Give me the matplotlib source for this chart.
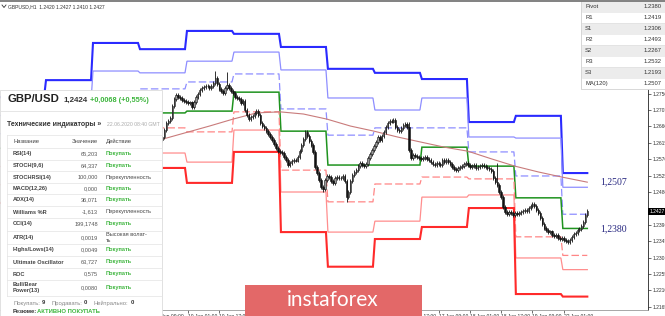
import matplotlib
matplotlib.use("Agg")
import matplotlib.pyplot as plt
import numpy as np
from matplotlib.patches import Rectangle

plt.rcParams["font.family"] = ["Liberation Sans", "DejaVu Sans"]

W, H = 665, 316

# daily pivot levels, 4 Jun .. 22 Jun (one value per trading day)
day_index = list(range(-1, 12))
r3 = [1.2740, 1.2787, 1.2889, 1.2872, 1.2922, 1.2914, 1.2878, 1.2818, 1.2807, 1.2790, 1.2672, 1.2689, 1.2532]
r2 = [1.2690, 1.2730, 1.2812, 1.2807, 1.2839, 1.2864, 1.2815, 1.2738, 1.2705, 1.2738, 1.2631, 1.2628, 1.2493]
r1 = [1.2640, 1.2680, 1.2740, 1.2763, 1.2782, 1.2804, 1.2708, 1.2636, 1.2656, 1.2656, 1.2590, 1.2524, 1.2419]
pivot = [1.2600, 1.2640, 1.2670, 1.2697, 1.2702, 1.2754, 1.2647, 1.2554, 1.2554, 1.2603, 1.2551, 1.2464, 1.2380]
s1 = [1.2550, 1.2590, 1.2600, 1.2656, 1.2645, 1.2700, 1.2540, 1.2453, 1.2502, 1.2521, 1.2516, 1.2357, 1.2306]
s2 = [1.2500, 1.2540, 1.2530, 1.2587, 1.2562, 1.2650, 1.2480, 1.2370, 1.2400, 1.2466, 1.2472, 1.2299, 1.2267]
s3 = [1.2450, 1.2490, 1.2450, 1.2546, 1.2505, 1.2590, 1.2370, 1.2275, 1.2351, 1.2384, 1.2436, 1.2200, 1.2193]

# H1 closes from hour 60 (9 Jun 12:00)
hour0 = 60
first_open = 1.2622
closes = [
    1.2631, 1.2650, 1.2669, 1.2675, 1.2683, 1.2716, 1.2735, 1.2746, 1.2741, 1.2738, 1.2732, 1.2730,
    1.2727, 1.2724, 1.2726, 1.2713, 1.2727, 1.2741, 1.2749, 1.2760, 1.2765, 1.2768, 1.2771, 1.2770,
    1.2765, 1.2771, 1.2779, 1.2793, 1.2776, 1.2763, 1.2757, 1.2752, 1.2765, 1.2774, 1.2765, 1.2757,
    1.2752, 1.2741, 1.2738, 1.2735, 1.2724, 1.2730, 1.2705, 1.2691, 1.2680, 1.2686, 1.2689, 1.2697,
    1.2702, 1.2691, 1.2669, 1.2661, 1.2656, 1.2647, 1.2639, 1.2631, 1.2623, 1.2612, 1.2601, 1.2592,
    1.2590, 1.2587, 1.2576, 1.2568, 1.2554, 1.2560, 1.2565, 1.2568, 1.2566, 1.2576, 1.2592, 1.2609,
    1.2625, 1.2645, 1.2634, 1.2620, 1.2609, 1.2590, 1.2549, 1.2532, 1.2513, 1.2494, 1.2488, 1.2513,
    1.2524, 1.2521, 1.2510, 1.2505, 1.2518, 1.2521, 1.2519, 1.2518, 1.2524, 1.2510, 1.2466, 1.2480,
    1.2510, 1.2527, 1.2535, 1.2540, 1.2551, 1.2560, 1.2554, 1.2551, 1.2557, 1.2573, 1.2584, 1.2595,
    1.2606, 1.2617, 1.2631, 1.2623, 1.2634, 1.2645, 1.2658, 1.2669, 1.2675, 1.2673, 1.2678, 1.2658,
    1.2650, 1.2647, 1.2656, 1.2664, 1.2667, 1.2658, 1.2595, 1.2573, 1.2582, 1.2579, 1.2576, 1.2573,
    1.2571, 1.2573, 1.2576, 1.2571, 1.2568, 1.2562, 1.2557, 1.2554, 1.2560, 1.2557, 1.2554, 1.2568,
    1.2562, 1.2568, 1.2562, 1.2557, 1.2549, 1.2543, 1.2540, 1.2546, 1.2549, 1.2551, 1.2557, 1.2560,
    1.2554, 1.2549, 1.2551, 1.2554, 1.2546, 1.2549, 1.2551, 1.2554, 1.2551, 1.2549, 1.2546, 1.2543,
    1.2538, 1.2518, 1.2507, 1.2499, 1.2480, 1.2466, 1.2439, 1.2425, 1.2420, 1.2425, 1.2422, 1.2417,
    1.2422, 1.2420, 1.2422, 1.2425, 1.2428, 1.2431, 1.2428, 1.2436, 1.2442, 1.2447, 1.2442, 1.2431,
    1.2422, 1.2409, 1.2392, 1.2381, 1.2376, 1.2370, 1.2372, 1.2362, 1.2359, 1.2362, 1.2354, 1.2351,
    1.2354, 1.2348, 1.2346, 1.2343, 1.2348, 1.2357, 1.2365, 1.2367, 1.2376, 1.2378, 1.2387, 1.2398,
    1.2417, 1.2427,
]
spike_high = {87: 1.2813, 93: 1.2810, 186: 1.2672, 231: 1.2560}
spike_low = {142: 1.2480, 154: 1.2452, 267: 1.2338}

ma_hours = [60, 72, 84, 96, 108, 120, 132, 144, 156, 168, 180, 192, 204, 216, 228, 240, 252, 264, 277]
ma120 = [1.2625, 1.2643, 1.2661, 1.2680, 1.2697, 1.2700, 1.2694, 1.2680, 1.2661, 1.2647, 1.2631, 1.2617,
         1.2603, 1.2592, 1.2571, 1.2551, 1.2535, 1.2521, 1.2507]

y_ticks = [1.2165, 1.2210, 1.2255, 1.2300, 1.2345, 1.2390, 1.2480, 1.2525, 1.2570, 1.2615, 1.2660, 1.2705, 1.2750]
x_ticks = [57, 73, 89, 105, 121, 137, 153, 169, 185, 201, 217, 233, 249, 265]
x_labels = ["9 Jun 09:00", "10 Jun 01:00", "10 Jun 17:00", "11 Jun 09:00", "12 Jun 01:00", "12 Jun 17:00",
            "15 Jun 09:00", "16 Jun 01:00", "16 Jun 17:00", "17 Jun 09:00", "18 Jun 01:00", "18 Jun 17:00",
            "19 Jun 09:00", "22 Jun 01:00"]

ind_names = ["RSI(14)", "STOCH(9,6)", "STOCHRSI(14)", "MACD(12,26)", "ADX(14)", "Williams %R", "CCI(14)",
             "ATR(14)", "Highs/Lows(14)", "Ultimate Oscillator", "ROC", "Bull/Bear\nPower(13)"]
ind_values = ["65,203", "64,337", "100,000", "0,000", "36,071", "-1,613", "199,1748", "0,0019", "0,0049",
              "63,727", "0,575", "0,0080"]
ind_actions = ["Покупать", "Покупать", "Перекупленность", "Покупать", "Покупать", "Перекупленность",
               "Покупать", "Высокая волат-\nть", "Покупать", "Покупать", "Покупать", "Покупать"]

GREEN_TXT = "#3db53d"

fig = plt.figure(figsize=(W / 100, H / 100), dpi=100)
fig.patch.set_facecolor("white")

# main price chart: x in hours from 5 Jun 00:00, 1.958 px per hour
ax = fig.add_axes([0, 6 / H, 648 / W, 308 / H])
ax.set_xlim(-23.0, 308.0)
ax.set_ylim(1.21562, 1.30014)
for side in ("left", "top"):
    ax.spines[side].set_visible(False)
ax.spines["right"].set_color("#222222")
ax.spines["right"].set_linewidth(0.6)
ax.spines["bottom"].set_color("#999999")
ax.spines["bottom"].set_linewidth(0.6)

last_hour = hour0 + len(closes) - 1


def level_line(values):
    xs, ys = [], []
    for d, v in zip(day_index, values):
        xs += [d * 24 + 0.5, min(d * 24 + 23.5, last_hour)]
        ys += [v, v]
    return xs, ys


levels = [
    (r3, "#2a2aff", 1.5, "-"),
    (r2, "#8e8eff", 0.9, "-"),
    (r1, "#8e8eff", 0.9, (0, (6, 2.5))),
    (pivot, "#1f931f", 1.1, "-"),
    (s1, "#ff8686", 0.9, (0, (6, 2.5))),
    (s2, "#ff8e8e", 0.9, "-"),
    (s3, "#ff2a2a", 1.5, "-"),
]
for vals, col, lw, ls in levels:
    xs, ys = level_line(vals)
    ax.plot(xs, ys, color=col, lw=lw, ls=ls, zorder=2, solid_joinstyle="miter")

ax.plot(ma_hours, ma120, color="#c97b7b", lw=0.8, zorder=2)

# candles
c = np.array(closes)
o = np.r_[first_open, c[:-1]]
hrs = np.arange(hour0, hour0 + len(c))
hi = np.maximum(o, c) + 0.0005
lo = np.minimum(o, c) - 0.0005
for h, v in spike_high.items():
    hi[h - hour0] = v
for h, v in spike_low.items():
    lo[h - hour0] = v
up = c >= o
ax.vlines(hrs, lo, hi, color="#111111", lw=0.6, zorder=3)
ax.bar(hrs[up], (c - o)[up] + 0.00005, bottom=o[up], width=0.75, color="#999999",
       edgecolor="#111111", linewidth=0.4, zorder=4)
ax.bar(hrs[~up], (o - c)[~up] + 0.00005, bottom=c[~up], width=0.75, color="#111111",
       edgecolor="#111111", linewidth=0.4, zorder=4)

ax.yaxis.tick_right()
ax.set_yticks(y_ticks)
ax.set_yticklabels([f"{v:.4f}" for v in y_ticks])
ax.tick_params(axis="y", labelsize=3.6, length=2, width=0.5, pad=1.5, colors="#333333")
ax.set_xticks(x_ticks)
ax.set_xticklabels(x_labels, ha="left")
ax.tick_params(axis="x", labelsize=3.6, length=2, width=0.5, pad=1.2, colors="#333333")

ax.text(1.002, c[-1], f"{c[-1]:.4f}", transform=ax.get_yaxis_transform(), fontsize=3.6,
        color="white", va="center", ha="left", clip_on=False, zorder=6,
        bbox=dict(boxstyle="square,pad=0.25", fc="black", ec="none"))
ax.text(283.5, ma120[-1], f"{ma120[-1]:.4f}".replace(".", ","), fontsize=7, color="#262680",
        family=["Liberation Serif", "DejaVu Serif"], va="center", ha="left", zorder=6)
ax.text(283.5, pivot[-1], f"{pivot[-1]:.4f}".replace(".", ","), fontsize=7, color="#262680",
        family=["Liberation Serif", "DejaVu Serif"], va="center", ha="left", zorder=6)

# overlay in pixel coordinates
ov = fig.add_axes([0, 0, 1, 1], zorder=5)
ov.set_xlim(0, W)
ov.set_ylim(H, 0)
ov.axis("off")
ov.patch.set_visible(False)

ov.plot([0, W], [0.6, 0.6], color="#777777", lw=1.3)
ov.plot([2, 4, 6], [5, 7.5, 5], color="#333333", lw=0.6)
ov.text(8, 6.5, "GBPUSD,H1  1.2420 1.2427 1.2410 1.2427", fontsize=3.6, color="#333333", va="center")

# top-right level table
tab_names = ["Pivot", "R1", "S1", "R2", "S2", "R3", "S3", "MA(120)"]
tab_vals = [pivot[-1], r1[-1], s1[-1], r2[-1], s2[-1], r3[-1], s3[-1], ma120[-1]]
ov.add_patch(Rectangle((581, 1.2), 84, 87.5, fc="white", ec="#cfcfcf", lw=0.6))
for i, (nm, v) in enumerate(zip(tab_names, tab_vals)):
    y0 = 1.2 + i * 10.95
    if i % 2 == 0:
        ov.add_patch(Rectangle((581.5, y0), 83.5, 10.95, fc="#ececec", ec="none"))
    ov.plot([581.5, 665], [y0 + 10.95, y0 + 10.95], color="#dddddd", lw=0.4)
    ov.text(585, y0 + 5.6, nm, fontsize=4.2, color="#333333", va="center")
    ov.text(662, y0 + 5.6, f"{v:.4f}", fontsize=4.2, color="#333333", va="center", ha="right")

# technical indicators panel
ov.add_patch(Rectangle((0, 90), 162, H - 90, fc="white", ec="#dcdcdc", lw=0.6))
ov.text(7, 99.5, "GBP/USD", fontsize=8.2, fontweight="bold", color="#222222", va="center")
ov.text(63, 100, "1,2424", fontsize=5.8, fontweight="bold", color="#333333", va="center")
ov.text(90, 100, "+0,0068 (+0,55%)", fontsize=5.3, fontweight="bold", color=GREEN_TXT, va="center")
ov.plot([0, 162], [110.5, 110.5], color="#e2e2e2", lw=0.6)
ov.text(7, 125, "Технические индикаторы »", fontsize=5.0, fontweight="bold", color="#333333", va="center")
ov.text(107, 125, "22.06.2020 08:40 GMT", fontsize=3.7, color="#aaaaaa", va="center")

row_y = [154, 165.5, 177, 188.5, 200, 212, 223.5, 237.5, 250, 262, 274, 287.5]
bounds = [135, 147.5, 159.5, 171, 182.5, 194, 206, 217.5, 230.5, 244, 256, 268, 280, 296]
for yb in bounds:
    ov.plot([7, 162], [yb, yb], color="#e3e3e3", lw=0.5)
ov.plot([7, 7], [135, 296], color="#e3e3e3", lw=0.5)
ov.text(13, 141.5, "Название", fontsize=4.2, color="#444444", va="center")
ov.text(98, 141.5, "Значение", fontsize=4.2, color="#444444", va="center", ha="right")
ov.text(106, 141.5, "Действие", fontsize=4.2, color="#444444", va="center")
for y, nm, val, act in zip(row_y, ind_names, ind_values, ind_actions):
    ov.text(13, y, nm, fontsize=4.1, fontweight="bold", color="#444444", va="center", linespacing=1.15)
    ov.text(98, y, val, fontsize=4.1, color="#555555", va="center", ha="right")
    buy = act == "Покупать"
    ov.text(106, y, act, fontsize=4.1, color=GREEN_TXT if buy else "#444444",
            fontweight="bold" if buy else "normal", va="center", linespacing=1.15)

ov.text(13, 303, "Покупать:", fontsize=4.2, color="#888888", va="center")
ov.text(42, 303, "9", fontsize=4.2, fontweight="bold", color="#333333", va="center")
ov.text(52, 303, "Продавать:", fontsize=4.2, color="#888888", va="center")
ov.text(84, 303, "0", fontsize=4.2, fontweight="bold", color="#333333", va="center")
ov.text(94, 303, "Нейтрально:", fontsize=4.2, color="#888888", va="center")
ov.text(131, 303, "0", fontsize=4.2, fontweight="bold", color="#333333", va="center")
ov.text(13, 311.5, "Резюме:", fontsize=4.2, fontweight="bold", color="#333333", va="center")
ov.text(37, 311.5, "АКТИВНО ПОКУПАТЬ", fontsize=4.2, fontweight="bold", color=GREEN_TXT, va="center")

# watermark
ov.add_patch(Rectangle((245, 285), 177, 31, fc="#e36868", ec="none"))
ov.text(333, 300, "instaforex", fontsize=15, color="white", ha="center", va="center",
        family=["Lato", "Open Sans", "DejaVu Sans"])

fig.savefig("out.png", dpi=100)
